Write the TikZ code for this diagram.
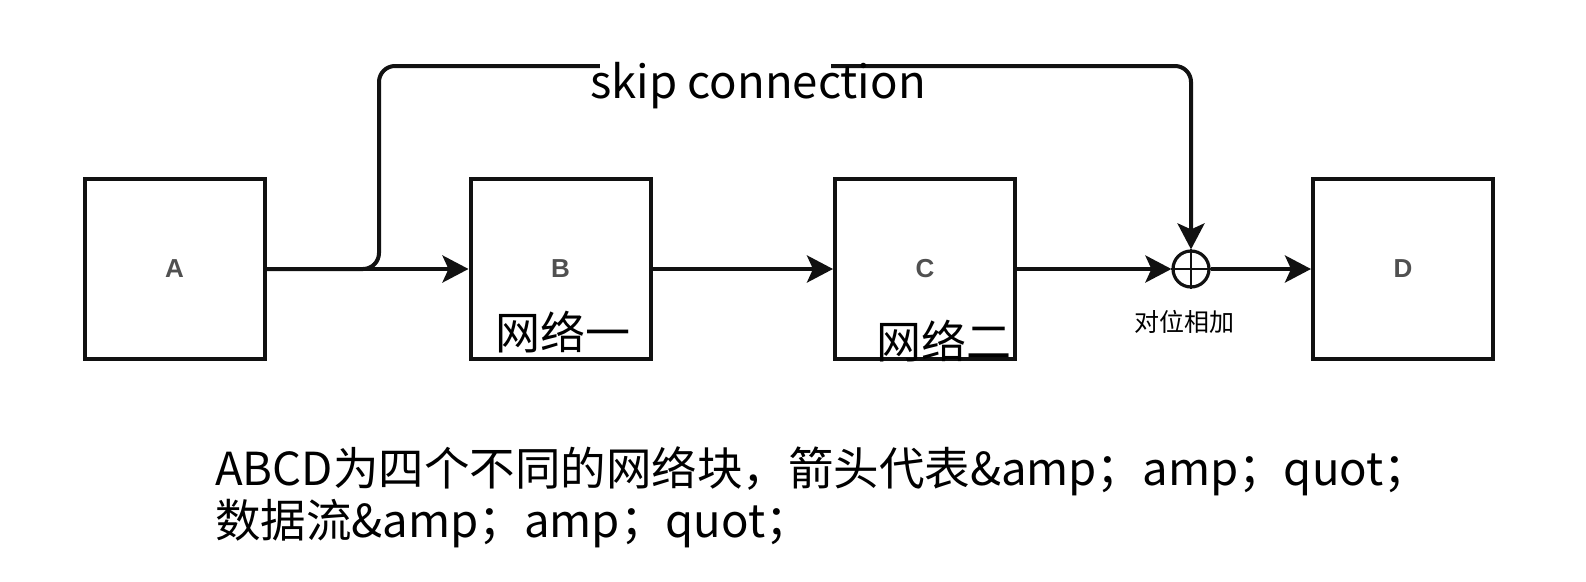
\documentclass[tikz,border=0pt]{standalone}
\usepackage{fontspec}
\newfontfamily\cjk{Noto Sans CJK SC}
\newfontfamily\lab{Liberation Sans}
\usetikzlibrary{arrows.meta}
\definecolor{ink}{HTML}{111111}
\definecolor{labgray}{HTML}{505050}
\tikzset{
  blockbox/.style={draw=ink, line width=4pt, minimum width=180pt, minimum height=180pt, inner sep=0pt,
    font={\lab\bfseries\fontsize{26}{30}\selectfont}, text=labgray},
  flow/.style={draw=ink, line width=4pt, -{Stealth[length=26pt,width=27pt,inset=6pt]}},
  plain/.style={draw=ink, line width=4pt},
  plusnode/.style={draw=ink, circle, line width=3.2pt, minimum size=36pt, inner sep=0pt},
  netlabel/.style={font={\cjk\fontsize{45}{50}\selectfont}, text=black, inner sep=0pt},
  smalllabel/.style={font={\cjk\fontsize{25}{28}\selectfont}, text=black, inner sep=0pt},
  bigtext/.style={font={\cjk\fontsize{45.5}{50}\selectfont}, text=black, inner sep=0pt, anchor=base west},
}
\begin{document}
\begin{tikzpicture}[x=1pt,y=-1pt]
\useasboundingbox (0,0) rectangle (1586,581);
\fill[white] (0,0) rectangle (1586,581);

\node[blockbox] (A) at (174.5,269) {A};
\node[blockbox] (B) at (560.5,269) {B};
\node[blockbox] (C) at (925,269) {C};
\node[blockbox] (D) at (1403,269) {D};
\node[plusnode] (P) at (1191,269) {};
\draw[plain, line width=2.8pt] (P.north) -- (P.south) (P.west) -- (P.east);

\draw[flow] (A.east) -- (B.west);
\draw[flow] (B.east) -- (C.west);
\draw[flow] (C.east) -- (P.west);
\draw[flow] (P.east) -- (D.west);
\draw[flow, rounded corners=16pt] (A.east) -- (379,269) -- (379,66) -- (1191,66) -- (P.north);

\fill[white] (600,56) rectangle (831,78);
\node[font={\cjk\fontsize{45.5}{50}\selectfont}, inner sep=0pt, anchor=base] (skip) at (758,98) {skip connection};

\node[netlabel] (n1) at (563,332) {网络一};
\node[netlabel] (n2) at (944,341) {网络二};
\node[smalllabel] (add) at (1184,322) {对位相加};

\node[bigtext] (t1) at (215,485) {ABCD为四个不同的网络块，箭头代表\&amp；amp；quot；};
\node[bigtext] (t2) at (215,537) {数据流\&amp；amp；quot；};
\end{tikzpicture}
\end{document}
